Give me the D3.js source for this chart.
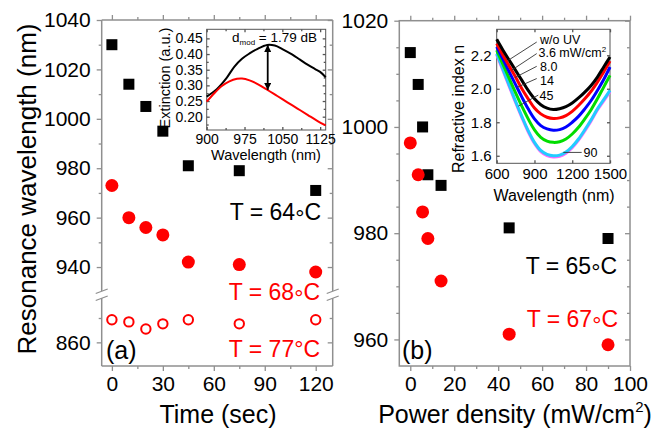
<!DOCTYPE html>
<html><head><meta charset="utf-8">
<script src="https://cdn.jsdelivr.net/npm/d3@7"></script>
<style>
body{margin:0;background:#fff}
svg{display:block}
text{font-family:"Liberation Sans",Arial,Helvetica,sans-serif}
</style>
</head><body>
<svg id="c" width="655" height="429"></svg>
<script>
// ---------------- data ----------------
// panel (a): resonance wavelength vs UV exposure time
const timeSec = [0, 10, 20, 30, 45, 75, 120];
const wlT64 = [1030, 1014, 1005, 995, 981, 979, 971];
const wlT68 = [973, 960, 956, 953, 942, 941, 938];
const wlT77 = [869.3, 868.4, 865.5, 867.6, 869.3, 867.6, 869.3];
const timeTicks = [0, 30, 60, 90, 120];
const timeMinor = [15, 45, 75, 105];
const wlTicksUpper = [940, 960, 980, 1000, 1020, 1040];
const wlMinorUpper = [950, 970, 990, 1010, 1030];
const wlTicksLower = [860];
const wlMinorLower = [870];

// panel (b): resonance wavelength vs UV power density
const powerDens = [0, 3.6, 5.6, 8, 14, 45, 90];
const wlP65 = [1014, 1008, 1000, 991, 989, 981, 979];
const wlP67 = [997, 991, 984, 979, 971, 961, 959];
const powerTicks = [0, 20, 40, 60, 80, 100];
const powerMinor = [10, 30, 50, 70, 90];
const wlTicksB = [960, 980, 1000, 1020];
const wlMinorB = [965, 970, 975, 985, 990, 995, 1005, 1010, 1015];

// inset (a): extinction spectra
const extWlBlack = [900, 920, 940, 955, 970, 985, 1000, 1020, 1035, 1050, 1070, 1085, 1100, 1115, 1125, 1136];
const extBlack   = [0.264, 0.288, 0.325, 0.360, 0.385, 0.402, 0.416, 0.429, 0.427, 0.416, 0.398, 0.382, 0.366, 0.352, 0.343, 0.326];
const extWlRed   = [900, 915, 930, 945, 960, 970, 985, 1000, 1020, 1040, 1060, 1080, 1100, 1120, 1136];
const extRed     = [0.248, 0.275, 0.298, 0.313, 0.321, 0.322, 0.316, 0.305, 0.286, 0.266, 0.246, 0.226, 0.206, 0.186, 0.172];
const extXTicks = [900, 975, 1050, 1125];
const extYTicks = [0.20, 0.25, 0.30, 0.35, 0.40, 0.45];
const dmodText = "1.79 dB";

// inset (b): refractive index dispersion
const nWl = [600, 650, 700, 750, 800, 850, 900, 950, 1000, 1050, 1100, 1150, 1200, 1250, 1300, 1350, 1400, 1450, 1500];
const nNoUV  = [2.295, 2.230, 2.170, 2.110, 2.050, 1.990, 1.940, 1.905, 1.884, 1.876, 1.881, 1.893, 1.915, 1.945, 1.980, 2.020, 2.070, 2.130, 2.190];
const n3p6   = [2.270, 2.200, 2.135, 2.070, 2.000, 1.940, 1.885, 1.850, 1.830, 1.822, 1.826, 1.840, 1.865, 1.900, 1.940, 1.985, 2.040, 2.100, 2.165];
const n8p0   = [2.250, 2.175, 2.100, 2.025, 1.950, 1.880, 1.820, 1.780, 1.760, 1.752, 1.756, 1.772, 1.800, 1.835, 1.880, 1.930, 1.990, 2.055, 2.130];
const n14    = [2.230, 2.145, 2.060, 1.975, 1.895, 1.820, 1.755, 1.710, 1.687, 1.680, 1.684, 1.700, 1.730, 1.770, 1.820, 1.875, 1.940, 2.010, 2.080];
const n45    = [2.203, 2.108, 2.013, 1.918, 1.828, 1.743, 1.673, 1.625, 1.601, 1.593, 1.597, 1.615, 1.648, 1.693, 1.748, 1.808, 1.873, 1.928, 1.983];
const n90    = [2.210, 2.115, 2.020, 1.925, 1.835, 1.750, 1.680, 1.632, 1.608, 1.600, 1.604, 1.622, 1.655, 1.700, 1.755, 1.815, 1.880, 1.935, 1.990];
const nLabels = ["w/o UV", "3.6 mW/cm", "8.0", "14", "45", "90"];
const nXTicks = [600, 900, 1200, 1500];
const nYTicks = [1.6, 1.8, 2.0, 2.2];

// ---------------- drawing ----------------
const svg = d3.select("#c");
const FR = "#8f8f8f";      // panel frame colour
const IN = "#555";         // inset frame colour
const RED = "#ff0000";
const fmtInt = d3.format("d");

function styleAxis(g, fs, col) {
  g.select(".domain").remove();
  g.selectAll(".tick line").attr("stroke", col).attr("stroke-width", 1.3);
  g.selectAll(".tick text").attr("fill", "#000").attr("font-size", fs)
    .attr("font-family", '"Liberation Sans",Arial,sans-serif');
  return g;
}
function addAxis(axis, tx, ty, fs, col) {
  const g = svg.append("g").attr("transform", `translate(${tx},${ty})`).call(axis);
  return styleAxis(g, fs, col);
}
function line(x1, y1, x2, y2, col, w) {
  svg.append("line").attr("x1", x1).attr("y1", y1).attr("x2", x2).attr("y2", y2)
    .attr("stroke", col).attr("stroke-width", w);
}
// "T = 64°C" with a mid-height ring
function tempLabel(x, y, num, col) {
  const t = svg.append("text").attr("x", x).attr("y", y).attr("text-anchor", "end")
    .attr("font-size", 23).attr("fill", col);
  t.append("tspan").text("T = " + num);
  t.append("tspan").attr("dy", 6).attr("font-size", 23).text("\u00b0");
  t.append("tspan").attr("dy", -6).text("C");
}

// ===== panel (a) =====
const aL = 101.7, aR = 332.7, aT = 20, aB = 366, brkHi = 291, brkLo = 298;
const xA = d3.scaleLinear([-6, 130], [aL, aR]);
const yAU = d3.scaleLinear([930.3, 1040], [brkHi, aT]);
const yAL = d3.scaleLinear([850.3, 878.2], [aB, brkLo]);
const yA = v => v > 900 ? yAU(v) : yAL(v);

addAxis(d3.axisBottom(xA).tickValues(timeTicks).tickSize(5).tickPadding(5).tickFormat(fmtInt), 0, aB, 21, FR);
addAxis(d3.axisBottom(xA).tickValues(timeMinor).tickSize(3).tickFormat(""), 0, aB, 21, FR);
addAxis(d3.axisTop(xA).tickValues(timeTicks).tickSize(5).tickFormat(""), 0, aT, 21, FR);
addAxis(d3.axisTop(xA).tickValues(timeMinor).tickSize(3).tickFormat(""), 0, aT, 21, FR);
addAxis(d3.axisLeft(yAU).tickValues(wlTicksUpper).tickSize(5).tickPadding(6).tickFormat(fmtInt), aL, 0, 21, FR);
addAxis(d3.axisLeft(yAU).tickValues(wlMinorUpper).tickSize(3).tickFormat(""), aL, 0, 21, FR);
addAxis(d3.axisLeft(yAL).tickValues(wlTicksLower).tickSize(5).tickPadding(6).tickFormat(fmtInt), aL, 0, 21, FR);
addAxis(d3.axisLeft(yAL).tickValues(wlMinorLower).tickSize(3).tickFormat(""), aL, 0, 21, FR);
addAxis(d3.axisLeft(yAU).tickValues(wlTicksUpper).tickSize(5).tickFormat(""), aR, 0, 21, FR);
addAxis(d3.axisLeft(yAU).tickValues(wlMinorUpper).tickSize(3).tickFormat(""), aR, 0, 21, FR);
addAxis(d3.axisLeft(yAL).tickValues(wlTicksLower).tickSize(5).tickFormat(""), aR, 0, 21, FR);
addAxis(d3.axisLeft(yAL).tickValues(wlMinorLower).tickSize(3).tickFormat(""), aR, 0, 21, FR);
line(aL, aT, aR, aT, FR, 1.5);
line(aL, aB, aR, aB, FR, 1.5);
[aL, aR].forEach(x => {
  line(x, aT, x, brkHi, FR, 1.5);
  line(x, brkLo, x, aB, FR, 1.5);
  line(x - 6, brkHi + 2.5, x + 6, brkHi - 2, FR, 1.3);
  line(x - 6, brkLo + 2.5, x + 6, brkLo - 2, FR, 1.3);
});

svg.append("g").selectAll("rect").data(timeSec).join("rect")
  .attr("x", (d) => xA(d) - 5.5).attr("y", (d, i) => yA(wlT64[i]) - 5.5)
  .attr("width", 11).attr("height", 11).attr("fill", "#000");
svg.append("g").selectAll("circle").data(timeSec).join("circle")
  .attr("cx", d => xA(d)).attr("cy", (d, i) => yA(wlT68[i])).attr("r", 6.5).attr("fill", RED);
svg.append("g").selectAll("circle").data(timeSec).join("circle")
  .attr("cx", d => xA(d)).attr("cy", (d, i) => yA(wlT77[i])).attr("r", 4.7)
  .attr("fill", "none").attr("stroke", RED).attr("stroke-width", 2);

tempLabel(321, 220, "64", "#000");
tempLabel(320, 300, "68", RED);
svg.append("text").attr("x", 320).attr("y", 356.5).attr("text-anchor", "end")
  .attr("font-size", 23).attr("fill", RED).text("T = 77\u00b0C");
svg.append("text").attr("x", 106).attr("y", 359).attr("font-size", 25).attr("fill", "#000").text("(a)");
svg.append("text").attr("transform", "translate(36,189) rotate(-90)").attr("text-anchor", "middle")
  .attr("font-size", 26).attr("fill", "#000").text("Resonance wavelength (nm)");
svg.append("text").attr("x", 218).attr("y", 423).attr("text-anchor", "middle")
  .attr("font-size", 25).attr("fill", "#000").text("Time (sec)");

// ===== inset (a) =====
const iaL = 206.7, iaR = 325.7, iaT = 29.3, iaB = 130;
const xIa = d3.scaleLinear([900, 1136], [iaL, iaR]);
const yIa = d3.scaleLinear([0.1575, 0.479], [iaB, iaT]);
svg.append("rect").attr("x", iaL).attr("y", iaT).attr("width", iaR - iaL).attr("height", iaB - iaT)
  .attr("fill", "#fff").attr("stroke", IN).attr("stroke-width", 1);
const extMinorY = [0.175, 0.225, 0.275, 0.325, 0.375, 0.425];
const extMinorX = [937.5, 1012.5, 1087.5];
addAxis(d3.axisBottom(xIa).tickValues(extXTicks).tickSizeInner(-3).tickSizeOuter(0).tickPadding(4).tickFormat(fmtInt), 0, iaB, 14, IN);
addAxis(d3.axisBottom(xIa).tickValues(extMinorX).tickSizeInner(-2).tickFormat(""), 0, iaB, 14, IN);
addAxis(d3.axisTop(xIa).tickValues(extXTicks).tickSizeInner(-3).tickFormat(""), 0, iaT, 14, IN);
addAxis(d3.axisTop(xIa).tickValues(extMinorX).tickSizeInner(-2).tickFormat(""), 0, iaT, 14, IN);
addAxis(d3.axisLeft(yIa).tickValues(extYTicks).tickSizeInner(-3).tickPadding(4).tickFormat(d3.format(".2f")), iaL, 0, 14, IN);
addAxis(d3.axisLeft(yIa).tickValues(extMinorY).tickSizeInner(-2).tickFormat(""), iaL, 0, 14, IN);
addAxis(d3.axisRight(yIa).tickValues(extYTicks).tickSizeInner(-3).tickFormat(""), iaR, 0, 14, IN);
addAxis(d3.axisRight(yIa).tickValues(extMinorY).tickSizeInner(-2).tickFormat(""), iaR, 0, 14, IN);

const lnA = d3.line().curve(d3.curveCatmullRom.alpha(0.5));
svg.append("path").attr("d", lnA(extWlBlack.map((w, i) => [xIa(w), yIa(extBlack[i])])))
  .attr("fill", "none").attr("stroke", "#000").attr("stroke-width", 2);
svg.append("path").attr("d", lnA(extWlRed.map((w, i) => [xIa(w), yIa(extRed[i])])))
  .attr("fill", "none").attr("stroke", RED).attr("stroke-width", 2);

const defs = svg.append("defs");
defs.append("marker").attr("id", "ah").attr("viewBox", "0 0 10 10").attr("refX", 10).attr("refY", 5)
  .attr("markerWidth", 7).attr("markerHeight", 7).attr("markerUnits", "userSpaceOnUse")
  .attr("orient", "auto-start-reverse")
  .append("path").attr("d", "M0,0 L10,5 L0,10 Z").attr("fill", "#000");
svg.append("line").attr("x1", xIa(1021)).attr("x2", xIa(1021))
  .attr("y1", yIa(0.429)).attr("y2", yIa(0.285))
  .attr("stroke", "#000").attr("stroke-width", 1.8)
  .attr("marker-start", "url(#ah)").attr("marker-end", "url(#ah)");

const dm = svg.append("text").attr("x", 232).attr("y", 41.7).attr("font-size", 13.5).attr("fill", "#000");
dm.append("tspan").text("d");
dm.append("tspan").attr("font-size", 8).attr("dy", 3).text("mod");
dm.append("tspan").attr("dy", -3).text(" = " + dmodText);

svg.append("text").attr("transform", "translate(170,78) rotate(-90)").attr("text-anchor", "middle")
  .attr("font-size", 14.5).attr("fill", "#000").text("Extinction (a.u.)");
svg.append("text").attr("x", 266).attr("y", 159.5).attr("text-anchor", "middle")
  .attr("font-size", 14.5).attr("fill", "#000").text("Wavelength (nm)");

// ===== panel (b) =====
const bL = 399.3, bR = 630, bT = 20.7, bB = 366;
const xB = d3.scaleLinear([-5, 100], [bL, bR]);
const yB = d3.scaleLinear([955, 1020], [bB, bT]);
addAxis(d3.axisBottom(xB).tickValues(powerTicks).tickSize(5).tickPadding(5).tickFormat(fmtInt), 0, bB, 21, FR);
addAxis(d3.axisBottom(xB).tickValues(powerMinor).tickSize(3).tickFormat(""), 0, bB, 21, FR);
addAxis(d3.axisTop(xB).tickValues(powerTicks).tickSize(5).tickFormat(""), 0, bT, 21, FR);
addAxis(d3.axisTop(xB).tickValues(powerMinor).tickSize(3).tickFormat(""), 0, bT, 21, FR);
addAxis(d3.axisLeft(yB).tickValues(wlTicksB).tickSize(5).tickPadding(6).tickFormat(fmtInt), bL, 0, 21, FR);
addAxis(d3.axisLeft(yB).tickValues(wlMinorB).tickSize(3).tickFormat(""), bL, 0, 21, FR);
addAxis(d3.axisLeft(yB).tickValues(wlTicksB).tickSize(5).tickFormat(""), bR, 0, 21, FR);
addAxis(d3.axisLeft(yB).tickValues(wlMinorB).tickSize(3).tickFormat(""), bR, 0, 21, FR);
svg.append("rect").attr("x", bL).attr("y", bT).attr("width", bR - bL).attr("height", bB - bT)
  .attr("fill", "none").attr("stroke", FR).attr("stroke-width", 1.5);

svg.append("g").selectAll("rect").data(powerDens).join("rect")
  .attr("x", d => xB(d) - 5.5).attr("y", (d, i) => yB(wlP65[i]) - 5.5)
  .attr("width", 11).attr("height", 11).attr("fill", "#000");
svg.append("g").selectAll("circle").data(powerDens).join("circle")
  .attr("cx", d => xB(d)).attr("cy", (d, i) => yB(wlP67[i])).attr("r", 6.5).attr("fill", RED);

tempLabel(617, 273.5, "65", "#000");
tempLabel(618, 326.5, "67", RED);
svg.append("text").attr("x", 402).attr("y", 359).attr("font-size", 25).attr("fill", "#000").text("(b)");
const pt = svg.append("text").attr("x", 515).attr("y", 423).attr("text-anchor", "middle")
  .attr("font-size", 25).attr("fill", "#000");
pt.append("tspan").text("Power density (mW/cm");
pt.append("tspan").attr("font-size", 15).attr("dy", -11).text("2");
pt.append("tspan").attr("dy", 11).text(")");

// ===== inset (b) =====
const ibL = 496.7, ibR = 610, ibT = 29.3, ibB = 163.3;
const xIb = d3.scaleLinear([600, 1500], [ibL, ibR]);
const yIb = d3.scaleLinear([1.555, 2.355], [ibB, ibT]);
svg.append("rect").attr("x", ibL).attr("y", ibT).attr("width", ibR - ibL).attr("height", ibB - ibT)
  .attr("fill", "#fff").attr("stroke", IN).attr("stroke-width", 1);
addAxis(d3.axisBottom(xIb).tickValues(nXTicks).tickSizeInner(-3).tickSizeOuter(0).tickPadding(5).tickFormat(fmtInt), 0, ibB, 15, IN);
addAxis(d3.axisTop(xIb).tickValues(nXTicks).tickSizeInner(-3).tickFormat(""), 0, ibT, 15, IN);
addAxis(d3.axisLeft(yIb).tickValues(nYTicks).tickSizeInner(-3).tickPadding(5).tickFormat(d3.format(".1f")), ibL, 0, 15, IN);
addAxis(d3.axisRight(yIb).tickValues(nYTicks).tickSizeInner(-3).tickFormat(""), ibR, 0, 15, IN);

const lnB = d3.line().curve(d3.curveCatmullRom.alpha(0.5));
const nSeries = [
  {v: n45, c: "#ff66ff", w: 3},
  {v: n90, c: "#22ccff", w: 3},
  {v: n14, c: "#00dd00", w: 3},
  {v: n8p0, c: "#0000ff", w: 3},
  {v: n3p6, c: "#ff0000", w: 3},
  {v: nNoUV, c: "#000000", w: 3}
];
nSeries.forEach(s => {
  svg.append("path").attr("d", lnB(nWl.map((w, i) => [xIb(w), yIb(s.v[i])])))
    .attr("fill", "none").attr("stroke", s.c).attr("stroke-width", s.w);
});
const leaders = [
  [[918, 2.279], [692, 2.170]],
  [[918, 2.210], [719, 2.111]],
  [[918, 2.134], [745, 2.067]],
  [[918, 2.061], [759, 2.008]],
  [[930, 1.962], [772, 1.896]],
  [[1129, 1.620], [1275, 1.620]]
];
leaders.forEach(l => line(xIb(l[0][0]), yIb(l[0][1]), xIb(l[1][0]), yIb(l[1][1]), "#333", 0.9));
const labPos = [[540, 44], [538.5, 57], [540, 70.5], [540, 85], [539.5, 99.5], [583.5, 157]];
nLabels.forEach((t, i) => {
  const tx = svg.append("text").attr("x", labPos[i][0]).attr("y", labPos[i][1])
    .attr("font-size", 12.5).attr("fill", "#000").text(t);
  if (i === 1) tx.append("tspan").attr("font-size", 8).attr("dy", -5).text("2");
});
svg.append("text").attr("transform", "translate(463.5,109) rotate(-90)").attr("text-anchor", "middle")
  .attr("font-size", 16).attr("fill", "#000").text("Refractive index n");
svg.append("text").attr("x", 554).attr("y", 200.5).attr("text-anchor", "middle")
  .attr("font-size", 16).attr("fill", "#000").text("Wavelength (nm)");
</script>
</body></html>
